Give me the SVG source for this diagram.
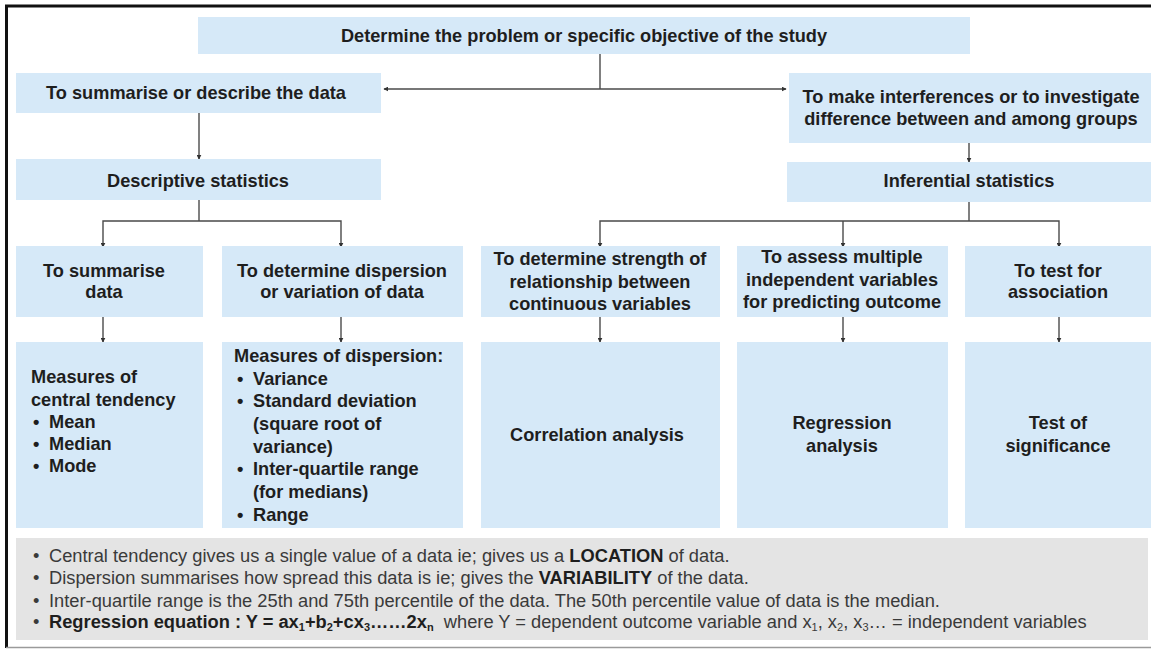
<svg xmlns="http://www.w3.org/2000/svg" width="1151" height="649" viewBox="0 0 1151 649">
  <style>
    .box { fill: #d6e9f8; }
    .note { fill: #e4e4e4; }
    .t { font-family: "Liberation Sans", Arial, sans-serif; font-size: 18.2px; font-weight: bold; fill: #1e1e1e; }
    .c { text-anchor: middle; }
    .n { font-family: "Liberation Sans", Arial, sans-serif; font-size: 18.3px; fill: #3a3a3a; }
    .n tspan.b { font-weight: bold; fill: #1e1e1e; }
    .link { fill: none; stroke: #4a4a4a; stroke-width: 1.4; }
  </style>
  <defs>
    <marker id="arrow" viewBox="0 0 8 8" refX="7" refY="4" markerWidth="5" markerHeight="5" orient="auto-start-reverse" markerUnits="userSpaceOnUse">
      <path d="M0,0 L8,4 L0,8 Z" fill="#333333"/>
    </marker>
  </defs>

  <rect width="1151" height="649" fill="#ffffff"/>

  <!-- frame -->
  <g id="frame">
    <line x1="6.5" y1="5" x2="6.5" y2="648" stroke="#111111" stroke-width="3"/>
    <line x1="5" y1="6" x2="1151" y2="6" stroke="#111111" stroke-width="3"/>
    <line x1="6" y1="647.5" x2="1151" y2="647.5" stroke="#9a9a9a" stroke-width="1.5"/>
  </g>

  <!-- connectors -->
  <g id="connectors" class="link">
    <line x1="600" y1="54" x2="600" y2="89"/>
    <line x1="384" y1="89" x2="786" y2="89" marker-start="url(#arrow)" marker-end="url(#arrow)"/>
    <line x1="199" y1="113" x2="199" y2="159" marker-end="url(#arrow)"/>
    <line x1="969" y1="143" x2="969" y2="162" marker-end="url(#arrow)"/>
    <line x1="199" y1="200" x2="199" y2="221"/>
    <path d="M103,247 V221 H341 V247" marker-start="url(#arrow)" marker-end="url(#arrow)"/>
    <line x1="969" y1="202" x2="969" y2="221"/>
    <path d="M600,247 V221 H1059 V247" marker-start="url(#arrow)" marker-end="url(#arrow)"/>
    <line x1="843" y1="221" x2="843" y2="247" marker-end="url(#arrow)"/>
    <line x1="103" y1="317" x2="103" y2="342" marker-end="url(#arrow)"/>
    <line x1="341" y1="317" x2="341" y2="342" marker-end="url(#arrow)"/>
    <line x1="600" y1="317" x2="600" y2="342" marker-end="url(#arrow)"/>
    <line x1="843" y1="317" x2="843" y2="342" marker-end="url(#arrow)"/>
    <line x1="1059" y1="317" x2="1059" y2="342" marker-end="url(#arrow)"/>
  </g>

  <!-- top level -->
  <g id="objective">
    <rect class="box" x="198" y="17" width="772" height="37"/>
    <text class="t c" x="584" y="42">Determine the problem or specific objective of the study</text>
  </g>
  <g id="describe">
    <rect class="box" x="16" y="73" width="365" height="40"/>
    <text class="t c" x="196" y="99">To summarise or describe the data</text>
  </g>
  <g id="infer">
    <rect class="box" x="789" y="73" width="362" height="70"/>
    <text class="t c" x="971" y="103">To make interferences or to investigate</text>
    <text class="t c" x="971" y="125">difference between and among groups</text>
  </g>
  <g id="descriptive">
    <rect class="box" x="16" y="159" width="365" height="41"/>
    <text class="t c" x="198" y="187">Descriptive statistics</text>
  </g>
  <g id="inferential">
    <rect class="box" x="787" y="162" width="364" height="40"/>
    <text class="t c" x="969" y="187">Inferential statistics</text>
  </g>

  <!-- purpose row -->
  <g id="summarise-data">
    <rect class="box" x="16" y="246" width="187" height="71"/>
    <text class="t c" x="104" y="277">To summarise</text>
    <text class="t c" x="104" y="298">data</text>
  </g>
  <g id="dispersion-purpose">
    <rect class="box" x="222" y="246" width="241" height="71"/>
    <text class="t c" x="342" y="277">To determine dispersion</text>
    <text class="t c" x="342" y="298">or variation of data</text>
  </g>
  <g id="strength">
    <rect class="box" x="481" y="246" width="239" height="71"/>
    <text class="t c" x="600" y="265">To determine strength of</text>
    <text class="t c" x="600" y="288">relationship between</text>
    <text class="t c" x="600" y="310">continuous variables</text>
  </g>
  <g id="multiple">
    <rect class="box" x="737" y="246" width="211" height="71"/>
    <text class="t c" x="842" y="263">To assess multiple</text>
    <text class="t c" x="842" y="286">independent variables</text>
    <text class="t c" x="842" y="308">for predicting outcome</text>
  </g>
  <g id="association">
    <rect class="box" x="965" y="246" width="186" height="71"/>
    <text class="t c" x="1058" y="277">To test for</text>
    <text class="t c" x="1058" y="298">association</text>
  </g>

  <!-- method row -->
  <g id="central-tendency">
    <rect class="box" x="16" y="342" width="187" height="186"/>
    <text class="t" x="31" y="383">Measures of</text>
    <text class="t" x="31" y="406">central tendency</text>
    <text class="t" x="33" y="428">•</text><text class="t" x="49" y="428">Mean</text>
    <text class="t" x="33" y="450">•</text><text class="t" x="49" y="450">Median</text>
    <text class="t" x="33" y="472">•</text><text class="t" x="49" y="472">Mode</text>
  </g>
  <g id="dispersion-measures">
    <rect class="box" x="222" y="342" width="241" height="186"/>
    <text class="t" x="234" y="362">Measures of dispersion:</text>
    <text class="t" x="237" y="385">•</text><text class="t" x="253" y="385">Variance</text>
    <text class="t" x="237" y="407">•</text><text class="t" x="253" y="407">Standard deviation</text>
    <text class="t" x="253" y="430">(square root of</text>
    <text class="t" x="253" y="453">variance)</text>
    <text class="t" x="237" y="475">•</text><text class="t" x="253" y="475">Inter-quartile range</text>
    <text class="t" x="253" y="498">(for medians)</text>
    <text class="t" x="237" y="521">•</text><text class="t" x="253" y="521">Range</text>
  </g>
  <g id="correlation">
    <rect class="box" x="481" y="342" width="239" height="186"/>
    <text class="t c" x="597" y="441">Correlation analysis</text>
  </g>
  <g id="regression">
    <rect class="box" x="737" y="342" width="211" height="186"/>
    <text class="t c" x="842" y="429">Regression</text>
    <text class="t c" x="842" y="452">analysis</text>
  </g>
  <g id="significance">
    <rect class="box" x="965" y="342" width="186" height="186"/>
    <text class="t c" x="1058" y="429">Test of</text>
    <text class="t c" x="1058" y="452">significance</text>
  </g>

  <!-- notes -->
  <g id="notes">
    <rect class="note" x="16" y="538" width="1132" height="102"/>
    <text class="n" x="33" y="562">•</text>
    <text class="n" x="49" y="562">Central tendency gives us a single value of a data ie; gives us a <tspan class="b">LOCATION</tspan> of data.</text>
    <text class="n" x="33" y="584">•</text>
    <text class="n" x="49" y="584">Dispersion summarises how spread this data is ie; gives the <tspan class="b">VARIABILITY</tspan> of the data.</text>
    <text class="n" x="33" y="607">•</text>
    <text class="n" x="49" y="607">Inter-quartile range is the 25th and 75th percentile of the data. The 50th percentile value of data is the median.</text>
    <text class="n" x="33" y="628">•</text>
    <text class="n" x="49" y="628"><tspan class="b">Regression equation : Y = ax<tspan font-size="11" dy="3">1</tspan><tspan dy="-3">+b</tspan><tspan font-size="11" dy="3">2</tspan><tspan dy="-3">+cx</tspan><tspan font-size="11" dy="3">3</tspan><tspan dy="-3">……2x</tspan><tspan font-size="11" dy="3">n</tspan></tspan><tspan dy="-3">&#160;&#160;where Y = dependent outcome variable and x</tspan><tspan font-size="11" dy="3">1</tspan><tspan dy="-3">, x</tspan><tspan font-size="11" dy="3">2</tspan><tspan dy="-3">, x</tspan><tspan font-size="11" dy="3">3</tspan><tspan dy="-3">… = independent variables</tspan></text>
  </g>
</svg>
